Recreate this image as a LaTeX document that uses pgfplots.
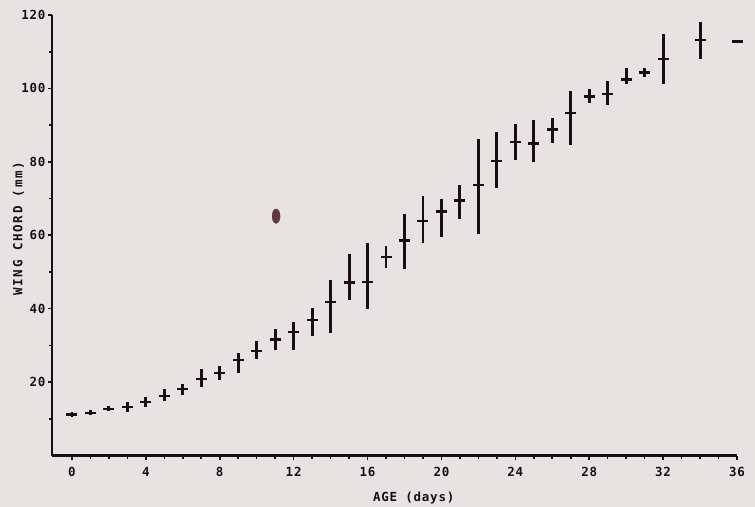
\documentclass[border=0pt]{standalone}
\usepackage{fontspec}
\usepackage{pgfplots}
\pgfplotsset{compat=1.18}
\usepackage{pgfplotstable}
\newfontfamily\mono[LetterSpace=6]{DejaVu Sans Mono}
\newfontfamily\monoy[LetterSpace=14]{DejaVu Sans Mono}
\definecolor{bg}{RGB}{231,227,227}
\definecolor{ink}{RGB}{24,14,20}
\definecolor{blob}{RGB}{95,55,65}
\pgfplotstableread{
x y lo hi
0 11.2 10.6 11.9
1 11.6 11.0 12.3
2 12.7 12.0 13.4
3 13.3 11.9 14.6
4 14.6 13.1 16.0
5 16.3 14.9 18.0
6 18.1 16.5 19.6
7 20.8 18.6 23.7
8 22.4 20.7 24.4
9 26.0 22.4 27.8
10 28.4 26.2 31.2
11 31.6 28.7 34.5
12 33.7 28.7 36.4
13 36.9 32.5 40.3
14 41.9 33.4 47.9
15 47.1 42.3 54.8
16 47.3 40.0 58.0
17 54.1 51.0 57.1
18 58.6 50.7 65.7
19 63.9 58.0 70.6
20 66.5 59.4 70.0
21 69.5 64.5 73.6
22 73.6 60.3 86.3
23 80.3 73.0 88.1
24 85.4 80.4 90.4
25 85.0 79.9 91.3
26 88.8 85.1 92.0
27 93.3 84.5 99.3
28 97.8 96.1 99.9
29 98.4 95.6 102.1
30 102.4 101.1 105.6
31 104.3 103.1 105.6
32 108.1 101.3 114.9
34 113.1 108.1 118.0
36 112.8 112.8 112.8
}\wingdata
\begin{document}
\begin{tikzpicture}
\path[use as bounding box, fill=bg] (0,0) rectangle (755bp,507bp);
\begin{axis}[
  at={(52bp,51.5bp)}, anchor=south west,
  scale only axis, width=685bp, height=440.5bp,
  xmin=-1.08, xmax=36, ymin=0, ymax=120,
  axis x line*=bottom, axis y line*=left,
  axis line style={ink, line width=2.2bp, -},
  xtick={0,4,...,36}, minor xtick={1,...,35},
  ytick={20,40,...,120}, minor ytick={10,30,...,110},
  tick align=outside,
  major tick length=4bp, minor tick length=3bp,
  every tick/.style={ink, line width=1.6bp},
  /pgf/number format/assume math mode=true,
  tick label style={font=\mono\bfseries\fontsize{12.5bp}{14bp}\selectfont, text=ink},
  xticklabel style={yshift=-4bp},
  yticklabel style={xshift=1bp},
  xlabel={AGE (days)}, ylabel={WING CHORD (mm)},
  xlabel style={font=\mono\bfseries\fontsize{12.5bp}{14bp}\selectfont, text=ink,
    at={(axis description cs:0.528,0)}, anchor=north, yshift=-33bp},
  ylabel style={font=\monoy\bfseries\fontsize{12.5bp}{14bp}\selectfont, text=ink,
    at={(axis description cs:-0.049,0.515)}, anchor=center},
  clip=false,
]
\addplot[ink, only marks, mark=-, mark size=5.5bp, mark options={line width=2.3bp, ink},
  error bars/.cd, y dir=both, y explicit, error mark=none,
  error bar style={line width=2.9bp, ink}]
  table[x=x, y=y, y error plus expr=\thisrow{hi}-\thisrow{y}, y error minus expr=\thisrow{y}-\thisrow{lo}] {\wingdata};
\addplot[only marks, mark=*, mark size=4bp, mark options={blob, yscale=1.8, xscale=1}] coordinates {(11.05,65.2)};
\end{axis}
\end{tikzpicture}
\end{document}
